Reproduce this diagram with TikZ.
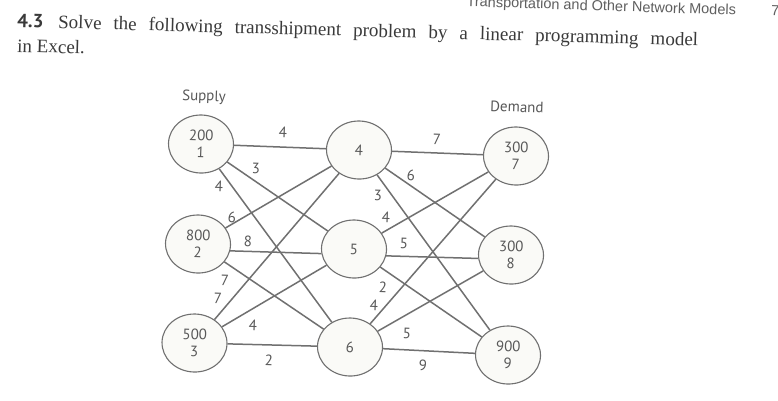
\documentclass[tikz,border=0pt]{standalone}
\usepackage{fontspec}
\setmainfont{Liberation Serif}
\newfontfamily\diagfont{PT Sans}
\newfontfamily\headfont{Liberation Sans}
\usetikzlibrary{shapes.geometric}
\definecolor{ink}{RGB}{58,58,58}
\definecolor{headink}{RGB}{95,95,95}
\definecolor{diagtext}{RGB}{88,88,88}
\definecolor{linegray}{RGB}{112,112,112}
\definecolor{nodefill}{RGB}{250,250,247}
\begin{document}
\begin{tikzpicture}[x=1pt,y=-1pt,
  netnode/.style={ellipse, draw=linegray, line width=1.1pt, fill=nodefill,
    minimum width=65pt, minimum height=58pt, inner sep=0pt,
    font=\diagfont\fontsize{15}{17}\selectfont, text=diagtext, align=center, rotate=-2},
  arc/.style={draw=linegray, line width=1.5pt},
  cost/.style={font=\diagfont\fontsize{15}{15}\selectfont, text=diagtext, inner sep=0pt, rotate=-2},
  caption/.style={font=\diagfont\fontsize{15}{15}\selectfont, text=diagtext, inner sep=0pt, rotate=-2},
  bodytext/.style={font=\fontsize{19}{19}\selectfont, text=ink, inner sep=0pt, anchor=base west, rotate=-1.6},
  headtext/.style={font=\headfont\fontsize{14.5}{14.5}\selectfont, text=headink, inner sep=0pt, rotate=-1.8}
]
\fill[white] (0,0) rectangle (778,400);
\useasboundingbox (0,0) rectangle (778,400);

% page header and exercise text
\node[headtext, anchor=base east] (head) at (736,15) {Transportation and Other Network Models};
\node[headtext, anchor=base west] (pnum) at (771,15) {7};
\node[bodytext] (line1) at (17,27) {\makebox[41pt][l]{\diagfont\bfseries 4.3}\makebox[640pt][s]{Solve the following transshipment problem by a linear programming model}};
\node[bodytext] (line2) at (17,52) {in Excel.};

% captions
\node[caption] (supply) at (204,97) {Supply};
\node[caption] (demand) at (517,107) {Demand};

% nodes
\node[netnode] (n1) at (201,144) {200\\1};
\node[netnode] (n2) at (198,244) {800\\2};
\node[netnode] (n3) at (194.5,343) {500\\3};
\node[netnode] (n4) at (359,150) {4};
\node[netnode] (n5) at (354,249) {5};
\node[netnode] (n6) at (350,347) {6};
\node[netnode] (n7) at (516,156) {300\\7};
\node[netnode] (n8) at (511,255) {300\\8};
\node[netnode] (n9) at (508,355) {900\\9};

% arcs
\draw[arc] (n1) -- (n4);
\draw[arc] (n1) -- (n5);
\draw[arc] (n1) -- (n6);
\draw[arc] (n2) -- (n4);
\draw[arc] (n2.-10) -- (n5.190);
\draw[arc] (n2) -- (n6);
\draw[arc] (n3) -- (n4);
\draw[arc] (n3) -- (n5);
\draw[arc] (n3) -- (n6);
\draw[arc] (n4) -- (n7);
\draw[arc] (n4) -- (n8);
\draw[arc] (n4) -- (n9);
\draw[arc] (n5) -- (n7);
\draw[arc] (n5.-10) -- (n8.188);
\draw[arc] (n5) -- (n9);
\draw[arc] (n6) -- (n7);
\draw[arc] (n6) -- (n8);
\draw[arc] (n6) -- (n9);

% costs
\node[cost] (c14) at (283,132) {4};
\node[cost] (c15) at (256,168) {3};
\node[cost] (c16) at (219,186) {4};
\node[cost] (c24) at (232,217) {6};
\node[cost] (c25) at (248,241) {8};
\node[cost] (c26) at (225,280) {7};
\node[cost] (c34) at (218,298) {7};
\node[cost] (c35) at (253,325) {4};
\node[cost] (c36) at (269,360) {2};
\node[cost] (c47) at (437,139) {7};
\node[cost] (c48) at (411,175) {6};
\node[cost] (c49) at (378,195) {3};
\node[cost] (c57) at (386,217) {4};
\node[cost] (c58) at (404,243) {5};
\node[cost] (c59) at (383,287) {2};
\node[cost] (c67) at (374,305) {4};
\node[cost] (c68) at (407,333) {5};
\node[cost] (c69) at (423,365) {9};
\end{tikzpicture}
\end{document}
